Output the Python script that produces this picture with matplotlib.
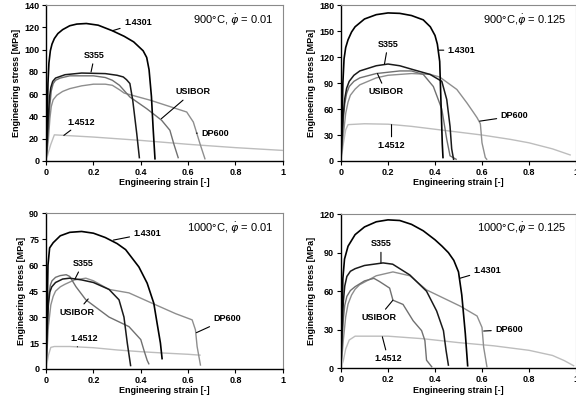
import matplotlib
matplotlib.use("Agg")
import matplotlib.pyplot as plt

plt.rcParams["font.family"] = ["Liberation Sans", "DejaVu Sans"]
plt.rcParams["mathtext.fontset"] = "dejavusans"

MATERIALS = ["1.4301", "S355", "USIBOR", "DP600", "1.4512"]
COLORS = {"1.4301": "#000000", "S355": "#1a1a1a", "USIBOR": "#707070",
          "DP600": "#8e8e8e", "1.4512": "#bdbdbd"}
WIDTHS = {"1.4301": 1.2, "S355": 1.1, "USIBOR": 1.0, "DP600": 1.0, "1.4512": 1.0}

# ---- 900 C, rate 0.01 ----
a_14301_x = [0, 0.004, 0.008, 0.012, 0.018, 0.025, 0.035, 0.05, 0.07, 0.1, 0.13, 0.17, 0.22, 0.28, 0.33, 0.37, 0.4, 0.41, 0.425, 0.435, 0.445, 0.452, 0.46]
a_14301_y = [0, 30, 70, 88, 99, 105, 110, 114.5, 118, 121.5, 123, 123.5, 122, 117, 112, 107, 101, 99, 93, 82, 58, 30, 2]
a_s355_x = [0, 0.005, 0.01, 0.015, 0.02, 0.028, 0.04, 0.08, 0.15, 0.25, 0.3, 0.326, 0.34, 0.354, 0.366, 0.383, 0.394]
a_s355_y = [0, 20, 42, 58, 66, 71.5, 74.5, 77.5, 79, 78.5, 77, 75.5, 73, 69.6, 54.6, 24.6, 3]
a_usibor_x = [0, 0.01, 0.016, 0.022, 0.03, 0.04, 0.06, 0.1, 0.2, 0.25, 0.28, 0.31, 0.354, 0.425, 0.488, 0.523, 0.54, 0.558]
a_usibor_y = [0, 30, 50, 63, 69.5, 72.5, 74.5, 76.5, 76.5, 75, 72.5, 68, 57.5, 47, 36.6, 27.6, 15, 3]
a_dp600_x = [0, 0.01, 0.016, 0.022, 0.03, 0.045, 0.07, 0.1, 0.15, 0.2, 0.25, 0.28, 0.31, 0.33, 0.44, 0.594, 0.622, 0.65, 0.671]
a_dp600_y = [0, 20, 38, 49, 55, 59, 62.5, 65, 67.5, 69, 69, 68, 64, 61, 54.6, 44, 35, 15.6, 2]
a_14512_x = [0, 0.01, 0.02, 0.035, 0.2, 0.4, 0.6, 0.8, 1.0]
a_14512_y = [0, 8, 15, 23.5, 21.5, 18.5, 15, 12, 9.5]

# ---- 900 C, rate 0.125 ----
b_14301_x = [0, 0.004, 0.008, 0.013, 0.02, 0.03, 0.045, 0.06, 0.1, 0.15, 0.2, 0.25, 0.3, 0.35, 0.38, 0.4, 0.41, 0.42, 0.426, 0.431, 0.434]
b_14301_y = [0, 40, 90, 118, 131, 140, 149, 155, 164, 169, 171, 170.5, 168, 163, 155, 145, 135, 115, 63, 20, 4]
b_s355_x = [0, 0.005, 0.01, 0.016, 0.024, 0.035, 0.055, 0.08, 0.15, 0.2, 0.25, 0.307, 0.379, 0.429, 0.45, 0.464, 0.471, 0.479]
b_s355_y = [0, 30, 55, 72, 84, 92, 99, 104, 110, 112, 110, 105.5, 100, 92, 71, 40, 14, 2]
b_usibor_x = [0, 0.005, 0.01, 0.016, 0.024, 0.035, 0.055, 0.08, 0.15, 0.25, 0.3, 0.35, 0.393, 0.429, 0.45, 0.464, 0.49]
b_usibor_y = [0, 25, 48, 66, 78, 86, 92, 96, 101, 104, 104, 100, 86, 60, 25, 6, 2]
b_dp600_x = [0, 0.01, 0.02, 0.03, 0.04, 0.06, 0.08, 0.15, 0.2, 0.3, 0.38, 0.42, 0.493, 0.536, 0.564, 0.579, 0.593, 0.6, 0.614, 0.62]
b_dp600_y = [0, 30, 55, 68, 76, 83, 88, 96, 99, 101, 100, 97, 82.6, 67, 56, 50, 43, 21, 4, 2]
b_14512_x = [0, 0.01, 0.02, 0.03, 0.1, 0.2, 0.3, 0.45, 0.6, 0.72, 0.8, 0.9, 0.975]
b_14512_y = [0, 20, 36, 42, 43, 42.5, 40, 35, 30, 25, 21, 14, 7]

# ---- 1000 C, rate 0.01 ----
c_14301_x = [0, 0.004, 0.008, 0.015, 0.03, 0.06, 0.1, 0.15, 0.2, 0.25, 0.3, 0.336, 0.392, 0.427, 0.455, 0.469, 0.483, 0.49]
c_14301_y = [0, 30, 60, 70, 73, 77, 79, 79.5, 78.5, 76, 72.5, 69, 59, 49.6, 38, 26.4, 15, 6]
c_s355_x = [0, 0.004, 0.01, 0.016, 0.024, 0.04, 0.07, 0.1, 0.15, 0.2, 0.266, 0.308, 0.329, 0.343, 0.357]
c_s355_y = [0, 20, 38, 44.5, 47.5, 50, 52, 52.5, 51.5, 50, 46, 40, 30, 15, 2]
c_usibor_x = [0, 0.005, 0.012, 0.018, 0.025, 0.04, 0.06, 0.085, 0.1, 0.126, 0.168, 0.266, 0.35, 0.4, 0.413, 0.427, 0.434]
c_usibor_y = [0, 25, 43, 48.5, 51, 53, 54, 54.5, 53.5, 47.6, 40, 30, 24.5, 17, 11, 5, 3]
c_dp600_x = [0, 0.01, 0.02, 0.03, 0.04, 0.06, 0.08, 0.12, 0.168, 0.2, 0.266, 0.35, 0.448, 0.547, 0.617, 0.631, 0.638, 0.652]
c_dp600_y = [0, 25, 37, 42, 45, 47.5, 49, 51.5, 52.5, 51, 46, 44, 38, 32, 28.4, 22.6, 13, 2.3]
c_14512_x = [0, 0.01, 0.02, 0.035, 0.1, 0.2, 0.3, 0.4, 0.5, 0.6, 0.65]
c_14512_y = [0, 8, 12.5, 13, 13, 12.3, 11, 10, 9.2, 8.5, 8]

# ---- 1000 C, rate 0.125 ----
d_14301_x = [0, 0.004, 0.008, 0.015, 0.03, 0.06, 0.1, 0.15, 0.2, 0.25, 0.3, 0.35, 0.4, 0.43, 0.457, 0.48, 0.5, 0.514, 0.529, 0.539]
d_14301_y = [0, 40, 70, 85, 95, 104, 110, 114, 115.5, 115, 112, 107, 100, 95, 90, 84, 75, 57, 27, 2]
d_s355_x = [0, 0.005, 0.01, 0.016, 0.025, 0.04, 0.06, 0.1, 0.179, 0.22, 0.293, 0.364, 0.407, 0.436, 0.447, 0.457]
d_s355_y = [0, 30, 52, 64, 71.5, 75.5, 77.5, 80, 82, 81, 72.6, 60, 44.6, 29.3, 14, 2.5]
d_usibor_x = [0, 0.005, 0.01, 0.016, 0.025, 0.04, 0.06, 0.1, 0.14, 0.164, 0.207, 0.221, 0.264, 0.307, 0.343, 0.357, 0.364, 0.386]
d_usibor_y = [0, 20, 38, 49, 56, 60.5, 63.5, 68, 70, 67.5, 62.4, 53, 49.7, 37, 29.3, 21.6, 6.3, 1.2]
d_dp600_x = [0, 0.01, 0.02, 0.03, 0.045, 0.06, 0.079, 0.15, 0.221, 0.293, 0.364, 0.507, 0.579, 0.6, 0.607, 0.621]
d_dp600_y = [0, 22, 40, 50, 57, 61.5, 65, 72, 75, 72, 61, 48.4, 40.7, 31.8, 16.5, 1.2]
d_14512_x = [0, 0.01, 0.02, 0.035, 0.06, 0.2, 0.35, 0.5, 0.65, 0.8, 0.9, 0.95, 0.99]
d_14512_y = [0, 6, 15, 22, 25, 25, 23, 20, 17.5, 14, 10, 6, 2]

PANELS = [
    dict(pos=[0.080, 0.6054, 0.411, 0.382], ymax=140, ystep=20,
         title=r"900°C, $\dot{\varphi}$ = 0.01",
         curves={"1.4301": (a_14301_x, a_14301_y), "S355": (a_s355_x, a_s355_y),
                 "USIBOR": (a_usibor_x, a_usibor_y), "DP600": (a_dp600_x, a_dp600_y),
                 "1.4512": (a_14512_x, a_14512_y)},
         labels={"1.4301": ((0.28, 117), (0.33, 124), "left"),
                 "S355": ((0.19, 80), (0.205, 95), "center"),
                 "USIBOR": ((0.487, 38), (0.545, 62), "left"),
                 "DP600": ((0.635, 25), (0.656, 25), "left"),
                 "1.4512": ((0.075, 23), (0.15, 35), "center")}),
    dict(pos=[0.592, 0.6054, 0.408, 0.382], ymax=180, ystep=30,
         title=r"900°C,$\dot{\varphi}$ = 0.125",
         curves={"1.4301": (b_14301_x, b_14301_y), "S355": (b_s355_x, b_s355_y),
                 "USIBOR": (b_usibor_x, b_usibor_y), "DP600": (b_dp600_x, b_dp600_y),
                 "1.4512": (b_14512_x, b_14512_y)},
         labels={"1.4301": ((0.418, 128), (0.455, 128), "left"),
                 "S355": ((0.185, 112), (0.2, 135), "center"),
                 "USIBOR": ((0.155, 101), (0.19, 80), "center"),
                 "DP600": ((0.59, 46), (0.68, 52), "left"),
                 "1.4512": ((0.215, 42), (0.215, 18), "center")}),
    dict(pos=[0.080, 0.0956, 0.411, 0.3816], ymax=90, ystep=15,
         title=r"1000°C, $\dot{\varphi}$ = 0.01",
         curves={"1.4301": (c_14301_x, c_14301_y), "S355": (c_s355_x, c_s355_y),
                 "USIBOR": (c_usibor_x, c_usibor_y), "DP600": (c_dp600_x, c_dp600_y),
                 "1.4512": (c_14512_x, c_14512_y)},
         labels={"1.4301": ((0.284, 74.5), (0.37, 78.4), "left"),
                 "S355": ((0.122, 52), (0.155, 61), "center"),
                 "USIBOR": ((0.178, 40.5), (0.13, 32.8), "center"),
                 "DP600": ((0.635, 21), (0.705, 29), "left"),
                 "1.4512": ((0.132, 12.8), (0.163, 17.7), "center")}),
    dict(pos=[0.592, 0.0973, 0.408, 0.378], ymax=120, ystep=30,
         title=r"1000°C,$\dot{\varphi}$ = 0.125",
         curves={"1.4301": (d_14301_x, d_14301_y), "S355": (d_s355_x, d_s355_y),
                 "USIBOR": (d_usibor_x, d_usibor_y), "DP600": (d_dp600_x, d_dp600_y),
                 "1.4512": (d_14512_x, d_14512_y)},
         labels={"1.4301": ((0.505, 70), (0.565, 76.4), "left"),
                 "S355": ((0.17, 82), (0.17, 97), "center"),
                 "USIBOR": ((0.221, 53), (0.16, 39.5), "center"),
                 "DP600": ((0.607, 29), (0.657, 30), "left"),
                 "1.4512": ((0.176, 24.5), (0.2, 7.6), "center")}),
]

fig = plt.figure(figsize=(5.76, 4.08), dpi=100)

for p in PANELS:
    ax = fig.add_axes(p["pos"])
    # grey curves first, black on top
    for name in ["1.4512", "DP600", "USIBOR", "S355", "1.4301"]:
        xs, ys = p["curves"][name]
        ax.plot(xs, ys, color=COLORS[name], lw=WIDTHS[name], zorder=3,
                solid_joinstyle="round")
    for name, (xy, xyt, ha) in p["labels"].items():
        ax.annotate(name, xy=xy, xytext=xyt, ha=ha, va="center",
                    fontsize=6.5, fontweight="bold",
                    arrowprops=dict(arrowstyle="-", color="black", lw=0.8,
                                    shrinkA=1, shrinkB=0))
    ax.text(0.96, 0.905, p["title"], transform=ax.transAxes, ha="right",
            va="center", fontsize=8)

    ax.set_xlim(0, 1)
    ax.set_ylim(0, p["ymax"])
    ax.set_xticks([0, 0.2, 0.4, 0.6, 0.8, 1.0])
    ax.set_xticklabels(["0", "0.2", "0.4", "0.6", "0.8", "1"])
    ax.set_yticks(range(0, p["ymax"] + 1, p["ystep"]))
    ax.tick_params(labelsize=6.5, length=3, width=0.8, pad=2)
    for lab in ax.get_xticklabels() + ax.get_yticklabels():
        lab.set_fontweight("bold")
    ax.set_xlabel("Engineering strain [-]", fontsize=6.5, fontweight="bold", labelpad=1)
    ax.set_ylabel("Engineering stress [MPa]", fontsize=6.5, fontweight="bold", labelpad=2)
    for s in ["left", "bottom"]:
        ax.spines[s].set_color("black")
        ax.spines[s].set_linewidth(1.0)
    for s in ["top", "right"]:
        ax.spines[s].set_color("#8a8a8a")
        ax.spines[s].set_linewidth(0.8)

fig.savefig("out.png", dpi=100)
